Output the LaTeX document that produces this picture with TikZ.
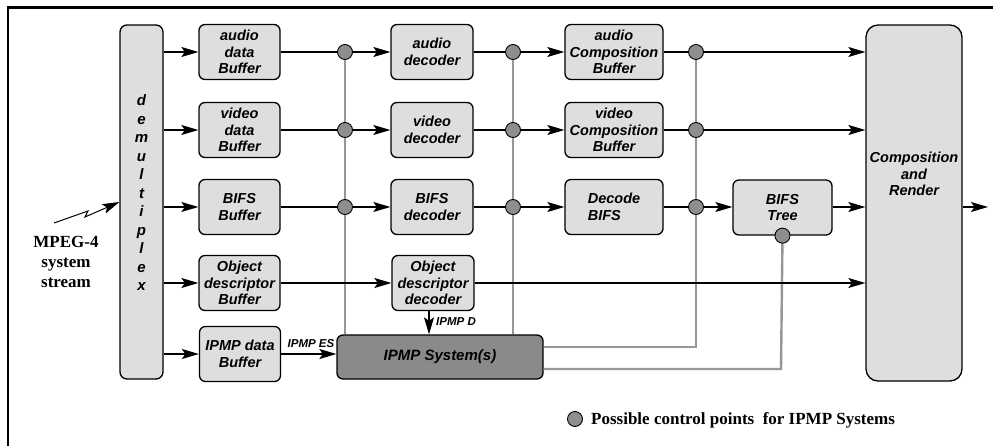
\documentclass[tikz,border=0pt]{standalone}
\usepackage{fontspec}
\setmainfont{Liberation Serif}
\newfontfamily\hvfont{Liberation Sans}
\usetikzlibrary{arrows.meta}
\definecolor{boxgray}{HTML}{DEDEDE}
\definecolor{darkbox}{HTML}{8A8A8A}
\definecolor{ptgray}{HTML}{8E8E8E}
\definecolor{ctlline}{HTML}{969696}
\tikzset{
  blk/.style={draw, line width=1.3pt, fill=boxgray, rounded corners=6pt,
    align=center, inner sep=0pt, font=\hvfont\bfseries\itshape\fontsize{14.5}{16.6}\selectfont},
  unit/.style={blk, minimum width=81pt, minimum height=55pt},
  wideunit/.style={blk, minimum width=98pt, minimum height=55pt},
  sig/.style={line width=1.1pt, black},
  arr/.style={sig, -{Stealth[length=17pt, width=10pt, inset=3.5pt]}},
  ctl/.style={line width=2.4pt, ctlline},
  cpoint/.style={circle, draw, line width=0.9pt, fill=ptgray, minimum size=15pt, inner sep=0pt},
  smalllab/.style={font=\hvfont\bfseries\itshape\fontsize{11.5}{13}\selectfont, inner sep=0pt},
  serifbold/.style={font=\bfseries\fontsize{17}{20}\selectfont, align=center, inner sep=0pt}
}
\begin{document}
\begin{tikzpicture}[x=1pt, y=-1pt]
\useasboundingbox (0,0) rectangle (993,446);

% outer frame (top and left rules)
\draw[line width=2.8pt] (8,446) -- (8,7.5) -- (993,7.5);

% demultiplexer
\node[blk, rounded corners=7pt, minimum width=43pt, minimum height=354pt] (demux) at (141.5,202) {};
\node[font=\hvfont\bfseries\itshape\fontsize{15}{18.5}\selectfont, align=center, inner sep=0pt] (demuxtxt) at (141.5,193)
  {d\\e\\m\\u\\l\\t\\i\\p\\l\\e\\x};

% input buffers
\node[unit] (adb) at (239.5,52) {audio\\data\\Buffer};
\node[unit] (vdb) at (239.5,130) {video\\data\\Buffer};
\node[unit] (bb)  at (239.5,207) {BIFS\\Buffer};
\node[unit] (odb) at (239.5,283) {Object\\descriptor\\Buffer};
\node[unit] (ipb) at (240,354) {IPMP data\\Buffer};

% decoders
\node[unit, minimum width=82pt] (ad)  at (432,52) {audio\\decoder};
\node[unit, minimum width=82pt] (vd)  at (432,130) {video\\decoder};
\node[unit, minimum width=82pt] (bd)  at (432,207) {BIFS\\decoder};
\node[unit, minimum width=82pt] (odd) at (433,283) {Object\\descriptor\\decoder};

% composition buffers
\node[wideunit] (acb) at (614,52) {audio\\Composition\\Buffer};
\node[wideunit] (vcb) at (614,130) {video\\Composition\\Buffer};
\node[wideunit, align=left] (dbifs) at (614,207) {Decode\\BIFS};

% scene tree and compositor
\node[blk, minimum width=99pt, minimum height=55pt] (tree) at (782.5,207.5) {BIFS\\Tree};
\node[blk, rounded corners=12pt, minimum width=96pt, minimum height=356pt] (comp) at (914,203) {};
\node[font=\hvfont\bfseries\itshape\fontsize{14.5}{16.6}\selectfont, align=center, inner sep=0pt] (comptxt) at (914,174)
  {Composition\\and\\Render};

% IPMP system block
\node[blk, fill=darkbox, minimum width=206pt, minimum height=44pt, font=\hvfont\bfseries\itshape\fontsize{15}{18}\selectfont]
  (ipmp) at (440,357) {IPMP System(s)};

% control point locations
\coordinate (p1a) at (345,52);  \coordinate (p1b) at (345,130);  \coordinate (p1c) at (345,207);
\coordinate (p2a) at (513,52);  \coordinate (p2b) at (513,130);  \coordinate (p2c) at (513,207);
\coordinate (p3a) at (696,52);  \coordinate (p3b) at (696,130);  \coordinate (p3c) at (696,207);
\coordinate (ptree) at (tree.south);

% control lines from the IPMP system
\draw[ctl] (p1a) -- (p1a |- ipmp.north);
\draw[ctl] (p2a) -- (p2a |- ipmp.north);
\draw[ctl] (p3a) -- (696,347) -- (ipmp.east |- 0,347);
\draw[ctl] (ptree) -- (781,369) -- (ipmp.east |- 0,369);

% demultiplexer outputs
\foreach \b in {adb,vdb,bb,odb,ipb}
  \draw[arr] (demux.east |- \b.west) -- (\b.west);

% buffer -> decoder
\draw[arr] (adb.east) -- (ad.west);
\draw[arr] (vdb.east) -- (vd.west);
\draw[arr] (bb.east) -- (bd.west);
\draw[arr] (odb.east) -- (odd.west);

% decoder -> composition buffer
\draw[arr] (ad.east) -- (acb.west);
\draw[arr] (vd.east) -- (vcb.west);
\draw[arr] (bd.east) -- (dbifs.west);

% composition buffers -> compositor
\draw[arr] (acb.east) -- (comp.west |- acb.east);
\draw[arr] (vcb.east) -- (comp.west |- vcb.east);
\draw[arr] (dbifs.east) -- (tree.west |- dbifs.east);
\draw[arr] (tree.east |- dbifs.east) -- (comp.west |- dbifs.east);
\draw[arr] (odd.east) -- (comp.west |- odd.east);
\coordinate (out) at (988,207);
\draw[arr] (comp.east |- out) -- (out);

% IPMP streams
\draw[arr] (ipb.east) -- (ipmp.west |- ipb.east);
\node[smalllab] (eslab) at (311,344) {IPMP ES};
\draw[arr] (odd.south -| 429,0) -- (429,0 |- ipmp.north);
\node[smalllab, anchor=west] (dlab) at (436,322) {IPMP D};

% control points
\foreach \p in {p1a,p1b,p1c,p2a,p2b,p2c,p3a,p3b,p3c}
  \node[cpoint] at (\p) {};
\node[cpoint] (treept) at (ptree) {};

% transport stream input
\node[serifbold] (mpeg) at (66,262) {MPEG-4\\system\\stream};
\coordinate (zz1) at (54,223);
\coordinate (zz2) at (88,211);
\coordinate (zz3) at (85,217);
\draw[arr, line width=1pt] (zz1) -- (zz2) -- (zz3) -- (demux.west |- 0,202);

% legend
\node[cpoint] (legpt) at (575,419) {};
\node[serifbold, anchor=west] (legtxt) at (591,420) {Possible control points\ \ for IPMP Systems};
\end{tikzpicture}
\end{document}
